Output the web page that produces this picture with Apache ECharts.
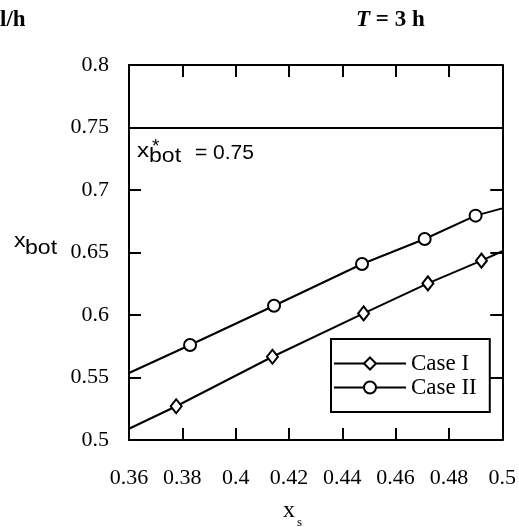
<!DOCTYPE html>
<html>
<head>
<meta charset="utf-8">
<script src="https://cdn.jsdelivr.net/npm/echarts@6/dist/echarts.min.js"></script>
<style>
  html, body { margin: 0; padding: 0; background: #fff; }
  #chart { width: 519px; height: 527px; }
</style>
</head>
<body>
<div id="chart"></div>
<script>
// data
var caseIX = [0.36, 0.3777, 0.4138, 0.448, 0.4721, 0.4922, 0.50];
var caseIY = [0.509, 0.527, 0.5666, 0.6013, 0.6253, 0.6435, 0.651];
var caseIMarked = [false, true, true, true, true, true, false];

var caseIIX = [0.36, 0.3829, 0.4144, 0.4474, 0.4709, 0.49, 0.50];
var caseIIY = [0.5536, 0.576, 0.6074, 0.6408, 0.6608, 0.6795, 0.6853];
var caseIIMarked = [false, true, true, true, true, true, false];

var xBotStar = 0.75;

var xMin = 0.36, xMax = 0.5, xStep = 0.02;
var yMin = 0.5, yMax = 0.8, yStep = 0.05;

var serif = '"Liberation Serif", "DejaVu Serif", serif';
var sans = '"Liberation Sans", Arial, sans-serif';

function pts(xs, ys, marked, sym) {
  return xs.map(function (x, i) {
    return { value: [x, ys[i]], symbol: marked[i] ? sym : 'none' };
  });
}

function fmt(v) {
  return String(Math.round(v * 100) / 100);
}

var axisLine = { show: true, onZero: false, lineStyle: { color: '#000', width: 2 } };
var axisTick = { show: true, inside: true, length: 12, lineStyle: { color: '#000', width: 2 } };

var chart = echarts.init(document.getElementById('chart'), null, { renderer: 'canvas' });

var option = {
  animation: false,
  backgroundColor: '#fff',
  grid: { left: 129, right: 12, top: 65, bottom: 87 },
  xAxis: [{
    type: 'value', min: xMin, max: xMax, interval: xStep,
    axisLine: axisLine, axisTick: axisTick, splitLine: { show: false },
    axisLabel: { color: '#000', fontFamily: serif, fontSize: 22, margin: 27, formatter: fmt }
  }, {
    type: 'value', position: 'top', min: xMin, max: xMax, interval: xStep,
    axisLine: axisLine, axisTick: axisTick, splitLine: { show: false },
    axisLabel: { show: false }
  }],
  yAxis: [{
    type: 'value', min: yMin, max: yMax, interval: yStep,
    axisLine: axisLine, axisTick: axisTick, splitLine: { show: false },
    axisLabel: { color: '#000', fontFamily: serif, fontSize: 22, margin: 20,
      padding: [6, 0, 0, 0], formatter: fmt }
  }, {
    type: 'value', position: 'right', min: yMin, max: yMax, interval: yStep,
    axisLine: axisLine, axisTick: axisTick, splitLine: { show: false },
    axisLabel: { show: false }
  }],
  legend: {
    left: 331, top: 339, orient: 'vertical',
    data: ['Case I', 'Case II'],
    itemWidth: 72, itemHeight: 15, itemGap: 1,
    borderColor: '#000', borderWidth: 2, borderRadius: 0,
    padding: [13, 13, 13, 2],
    textStyle: { color: '#000', fontFamily: serif, fontSize: 23, lineHeight: 20 }
  },
  series: [{
    name: 'Case I', type: 'line', xAxisIndex: 0, yAxisIndex: 0,
    data: pts(caseIX, caseIY, caseIMarked, 'emptyDiamond'),
    symbol: 'emptyDiamond', symbolSize: [11, 14],
    lineStyle: { color: '#000', width: 2 },
    itemStyle: { color: '#000', borderColor: '#000', borderWidth: 2 },
    markLine: {
      silent: true, symbol: 'none', label: { show: false },
      lineStyle: { color: '#000', width: 2, type: 'solid' },
      data: [{ yAxis: xBotStar }]
    }
  }, {
    name: 'Case II', type: 'line', xAxisIndex: 0, yAxisIndex: 0,
    data: pts(caseIIX, caseIIY, caseIIMarked, 'emptyCircle'),
    symbol: 'emptyCircle', symbolSize: 12,
    lineStyle: { color: '#000', width: 2 },
    itemStyle: { color: '#000', borderColor: '#000', borderWidth: 2 }
  }],
  graphic: [
    // header fragments
    { type: 'text', left: 0, top: 9, style: { text: 'l/h', font: 'bold 23px ' + serif, fill: '#000' } },
    { type: 'text', left: 356, top: 9, style: {
      text: '{i|T} = 3 h', font: 'bold 23px ' + serif, fill: '#000',
      rich: { i: { fontStyle: 'italic', fontWeight: 'bold', fontSize: 23, fontFamily: serif } }
    } },
    // x*_bot = 0.75 annotation
    { type: 'text', left: 137, top: 141, scaleX: 1.15, style: { text: 'x', font: '21px ' + sans, fill: '#000' } },
    { type: 'text', left: 152, top: 137, style: { text: '*', font: '19px ' + sans, fill: '#000' } },
    { type: 'text', left: 149, top: 146, scaleX: 1.1, style: { text: 'bot', font: '21px ' + sans, fill: '#000' } },
    { type: 'text', left: 195, top: 143, style: { text: '= 0.75', font: '21px ' + sans, fill: '#000' } },
    // y axis name
    { type: 'text', left: 14, top: 231, scaleX: 1.1, style: { text: 'x', font: '21px ' + sans, fill: '#000' } },
    { type: 'text', left: 25, top: 238, scaleX: 1.1, style: { text: 'bot', font: '21px ' + sans, fill: '#000' } },
    // x axis name
    { type: 'text', left: 283, top: 499, style: { text: 'x', font: '24px ' + serif, fill: '#000' } },
    { type: 'text', left: 297, top: 516, style: { text: 's', font: '13px ' + serif, fill: '#000' } }
  ]
};

chart.setOption(option);
</script>
</body>
</html>
